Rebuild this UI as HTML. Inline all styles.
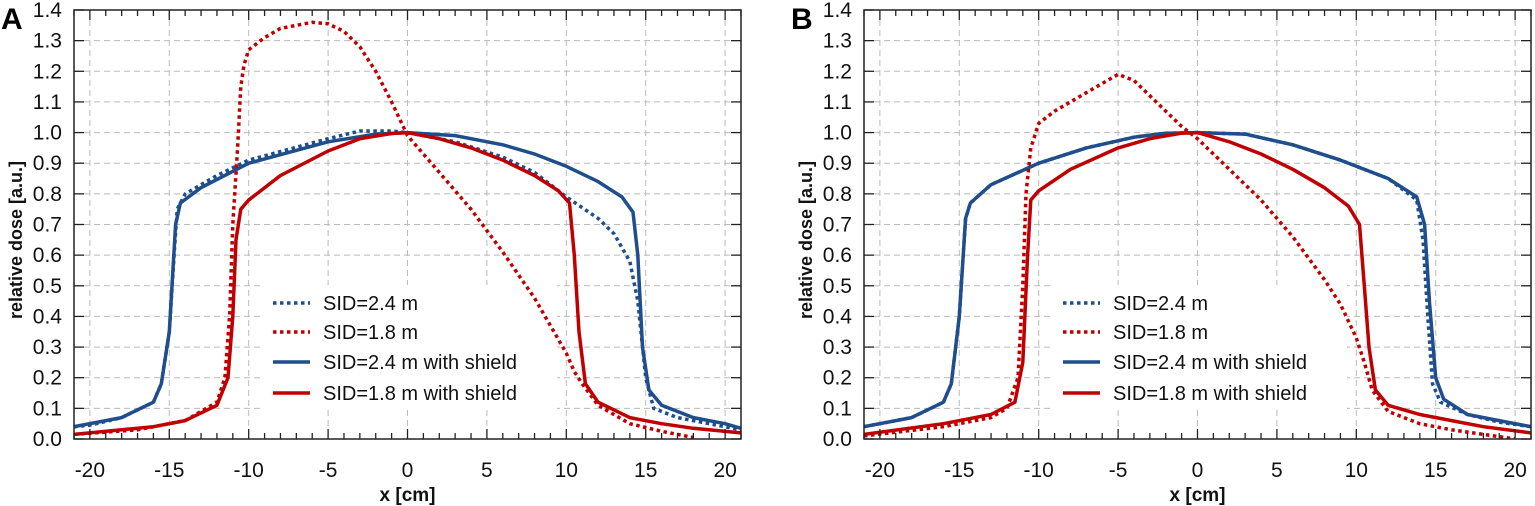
<!DOCTYPE html>
<html><head><meta charset="utf-8"><style>
html,body{margin:0;padding:0;background:#fff;}
svg{display:block;font-family:"Liberation Sans",sans-serif;}
</style></head><body>
<svg id="chart" width="1535" height="506"></svg>
<script>
const xTicks=[-20,-15,-10,-5,0,5,10,15,20];
const yTicks=[0.0,0.1,0.2,0.3,0.4,0.5,0.6,0.7,0.8,0.9,1.0,1.1,1.2,1.3,1.4];
const seriesNames=["SID=2.4 m","SID=1.8 m","SID=2.4 m with shield","SID=1.8 m with shield"];
const A_blueDot_x=[-21,-20,-18,-16,-15.5,-15,-14.7,-14.5,-14,-12,-10,-5,-3,-1,0,3,6,8,10,12,13,14,14.5,15,15.5,17,19,21];
const A_blueDot_y=[0.04,0.045,0.07,0.12,0.18,0.35,0.6,0.75,0.8,0.86,0.91,0.98,1.005,1.005,1.0,0.97,0.92,0.87,0.79,0.72,0.67,0.58,0.45,0.2,0.1,0.07,0.05,0.03];
const A_redDot_x=[-21,-17,-14,-12,-11.5,-11.2,-11,-10.7,-10.5,-10.3,-10,-9,-8,-6,-5,-4,-3,-2,-1,0,2,4,6,8,9,10,10.5,11,12,14,16,18];
const A_redDot_y=[0.015,0.03,0.06,0.12,0.2,0.4,0.7,0.95,1.15,1.22,1.27,1.31,1.34,1.36,1.355,1.33,1.28,1.2,1.1,0.99,0.87,0.75,0.61,0.46,0.37,0.28,0.22,0.18,0.11,0.05,0.025,0.005];
const A_blueSol_x=[-21,-18,-16,-15.5,-15,-14.6,-14.3,-13,-10,-5,-2,0,3,6,8,10,12,13.5,14.2,14.5,14.8,15.2,16,18,20,21];
const A_blueSol_y=[0.04,0.07,0.12,0.18,0.35,0.7,0.77,0.82,0.9,0.97,0.995,1.0,0.99,0.96,0.93,0.89,0.84,0.79,0.74,0.6,0.3,0.16,0.11,0.07,0.05,0.035];
const A_redSol_x=[-21,-16,-14,-12,-11.3,-11,-10.8,-10.5,-10,-8,-5,-3,-1,0,2,4,6,8,9.5,10.2,10.5,10.8,11.2,12,14,16,18,21];
const A_redSol_y=[0.015,0.04,0.06,0.11,0.2,0.4,0.65,0.75,0.78,0.86,0.94,0.98,0.997,1.0,0.98,0.95,0.91,0.86,0.81,0.77,0.6,0.35,0.18,0.12,0.07,0.05,0.035,0.02];
const B_blueDot_x=[-21,-18,-16,-15.5,-15,-14.6,-14.3,-13,-10,-7,-4,-2,0,3,6,9,12,13.8,14.2,14.5,14.8,15.3,17,19,21];
const B_blueDot_y=[0.04,0.07,0.12,0.18,0.4,0.72,0.77,0.83,0.9,0.95,0.985,0.998,1.0,0.995,0.96,0.91,0.85,0.78,0.65,0.4,0.18,0.12,0.08,0.055,0.04];
const B_redDot_x=[-21,-16,-13,-12,-11.3,-11,-10.8,-10.5,-10,-9,-7,-6,-5,-4,-3,-2,-1,0,2,4,6,8,9,10,10.5,11,12,14,16,18,20];
const B_redDot_y=[0.01,0.04,0.07,0.1,0.2,0.5,0.8,0.95,1.03,1.07,1.13,1.16,1.19,1.17,1.12,1.07,1.02,0.98,0.88,0.78,0.66,0.52,0.44,0.33,0.25,0.16,0.09,0.05,0.03,0.015,0.0];
const B_blueSol_x=[-21,-18,-16,-15.5,-15,-14.6,-14.3,-13,-10,-7,-4,-2,0,3,6,9,12,13.8,14.3,14.6,15,15.5,17,19,21];
const B_blueSol_y=[0.04,0.07,0.12,0.18,0.4,0.72,0.77,0.83,0.9,0.95,0.985,0.998,1.0,0.995,0.96,0.91,0.85,0.79,0.7,0.45,0.2,0.13,0.08,0.06,0.04];
const B_redSol_x=[-21,-16,-13,-11.5,-11,-10.7,-10.5,-10,-8,-5,-3,-1,0,2,4,6,8,9.5,10.2,10.5,10.8,11.2,12,14,16,18,21];
const B_redSol_y=[0.015,0.05,0.08,0.12,0.25,0.6,0.78,0.81,0.88,0.95,0.98,0.998,1.0,0.97,0.93,0.88,0.82,0.76,0.7,0.5,0.3,0.16,0.11,0.08,0.06,0.04,0.02];

const NS="http://www.w3.org/2000/svg";
const svg=document.getElementById('chart');
const BLUE="#1f4e8c",RED="#c00000";
function mk(tag,attrs,parent){const e=document.createElementNS(NS,tag);for(const k in attrs)e.setAttribute(k,attrs[k]);(parent||svg).appendChild(e);return e;}

function panel(ox,label,data){
  const L=ox,R=ox+667,T=10,B=439;
  const xs=v=>L+(v+21)/42*(R-L);
  const ys=v=>B-v/1.4*(B-T);
  const g=mk('g',{});
  
  
  const cid='clip'+label;
  const cp=mk('clipPath',{id:cid},g);mk('rect',{x:L,y:T,width:R-L,height:B-T},cp);
  xTicks.forEach(t=>{const l=mk('line',{x1:xs(t),x2:xs(t),y1:T,y2:B,stroke:'#bbb','stroke-dasharray':'6,4','stroke-width':1},g);
    });
  yTicks.forEach(t=>{if(t===0)return;const l=mk('line',{x1:L,x2:R,y1:ys(t),y2:ys(t),stroke:'#bbb','stroke-dasharray':'6,4','stroke-width':1},g);
    });
  const lb=mk('rect',{x:L+188,y:285,width:295,height:125,fill:'#fff'},g);
  
  const styles=[[BLUE,'3.5,3.5'],[RED,'3.5,3.5'],[BLUE,null],[RED,null]];
  const cg=mk('g',{'clip-path':'url(#'+cid+')'},g);
  [0,2,1,3].forEach(i=>{const [xa,ya]=data[i];
    const d=xa.map((x,j)=>(j?'L':'M')+xs(x).toFixed(1)+','+ys(ya[j]).toFixed(1)).join('');
    const p=mk('path',{d:d,fill:'none',stroke:styles[i][0],'stroke-width':3.5,'stroke-linejoin':'round'},cg);
    if(styles[i][1])p.setAttribute('stroke-dasharray',styles[i][1]);
    });
  const rows=[303,332,362,393];
  seriesNames.forEach((n,i)=>{
    const l=mk('line',{x1:L+199,x2:L+236,y1:rows[i],y2:rows[i],stroke:styles[i][0],'stroke-width':3.5},g);
    if(styles[i][1])l.setAttribute('stroke-dasharray','3.5,3.5');
    
    const t=mk('text',{x:L+249,y:rows[i]+7,'font-size':20,fill:'#111'},g);t.textContent=n;
    });
  const fr=mk('rect',{x:L,y:T,width:R-L,height:B-T,fill:'none',stroke:'#222','stroke-width':1.5},g);
  
  for(let v=-21;v<=21;v++){const maj=v%5===0;const len=maj?10:6;
    mk('line',{x1:xs(v),x2:xs(v),y1:B,y2:B-len,stroke:'#222','stroke-width':1.3},g);
    mk('line',{x1:xs(v),x2:xs(v),y1:T,y2:T+len,stroke:'#222','stroke-width':1.3},g);}
  yTicks.forEach(t=>{mk('line',{x1:L,x2:L+10,y1:ys(t),y2:ys(t),stroke:'#222','stroke-width':1.3},g);
    mk('line',{x1:R,x2:R-10,y1:ys(t),y2:ys(t),stroke:'#222','stroke-width':1.3},g);
    const tx=mk('text',{x:L-12,y:ys(t)+7,'font-size':21,'text-anchor':'end',fill:'#111'},g);tx.textContent=t.toFixed(1);
    });
  xTicks.forEach(t=>{const tx=mk('text',{x:xs(t),y:477,'font-size':21,'text-anchor':'middle',fill:'#111'},g);tx.textContent=t;
    });
  const xt=mk('text',{x:xs(0),y:501,'font-size':19,'font-weight':'bold','text-anchor':'middle',fill:'#111'},g);xt.textContent='x [cm]';
  
  const yt=mk('text',{x:0,y:0,'font-size':18,'font-weight':'bold','text-anchor':'middle',fill:'#111',transform:'translate('+(L-52)+',240) rotate(-90)'},g);yt.textContent='relative dose [a.u.]';
  
  const pl=mk('text',{x:L-73,y:29,'font-size':30,'font-weight':'bold',fill:'#000'},g);pl.textContent=label;
  
}
panel(74,'A',[[A_blueDot_x,A_blueDot_y],[A_redDot_x,A_redDot_y],[A_blueSol_x,A_blueSol_y],[A_redSol_x,A_redSol_y]]);
panel(864,'B',[[B_blueDot_x,B_blueDot_y],[B_redDot_x,B_redDot_y],[B_blueSol_x,B_blueSol_y],[B_redSol_x,B_redSol_y]]);
</script>
</body></html>
